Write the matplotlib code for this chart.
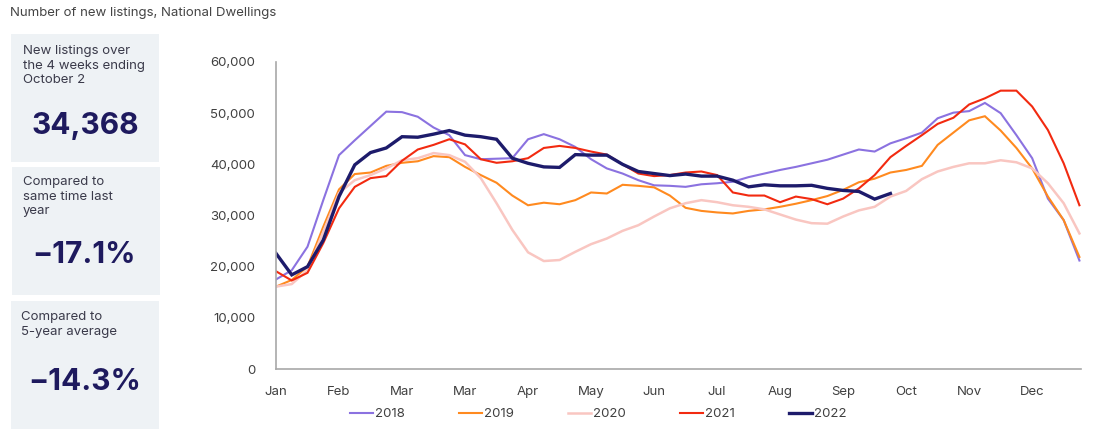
import matplotlib
matplotlib.use("Agg")
import matplotlib.pyplot as plt
from matplotlib.patches import Rectangle

plt.rcParams['font.family'] = ['Inter', 'DejaVu Sans']

# ---- data (weekly, 52 weeks) ----
tick_labels = ["Jan", "Feb", "Mar", "Mar", "Apr", "May", "Jun", "Jul", "Aug",
               "Sep", "Oct", "Nov", "Dec"]
tick_every = 4

s2018 = [17.5, 19.3, 23.9, 33.0, 41.8, 44.7, 47.5, 50.3, 50.2, 49.3, 47.2, 45.7,
         41.8, 41.0, 41.1, 41.2, 44.9, 45.9, 44.9, 43.4, 41.0, 39.2, 38.2, 36.9,
         35.9, 35.8, 35.6, 36.1, 36.3, 36.6, 37.5, 38.2, 38.9, 39.5, 40.2, 40.9,
         41.9, 42.9, 42.5, 44.1, 45.1, 46.2, 49.0, 50.1, 50.4, 52.0, 50.0, 45.7,
         41.2, 33.3, 29.1, 21.2]
s2019 = [16.1, 17.4, 20.0, 27.8, 35.1, 38.1, 38.4, 39.7, 40.3, 40.6, 41.6, 41.4,
         39.5, 37.9, 36.4, 33.9, 32.0, 32.5, 32.2, 33.0, 34.5, 34.3, 36.0, 35.8,
         35.5, 33.9, 31.5, 30.9, 30.6, 30.4, 30.9, 31.2, 31.7, 32.3, 33.0, 33.8,
         35.0, 36.5, 37.2, 38.4, 38.9, 39.7, 43.8, 46.2, 48.6, 49.4, 46.6, 43.2,
         39.2, 33.7, 29.1, 21.9]
s2020 = [16.1, 16.6, 19.3, 26.8, 34.4, 36.9, 37.9, 39.2, 40.8, 41.2, 42.2, 41.8,
         40.5, 37.3, 32.4, 27.2, 22.8, 21.1, 21.3, 22.9, 24.4, 25.5, 27.0, 28.1,
         29.8, 31.4, 32.4, 33.0, 32.6, 32.0, 31.7, 31.2, 30.2, 29.2, 28.5, 28.4,
         29.8, 31.0, 31.7, 33.7, 34.8, 37.1, 38.6, 39.5, 40.2, 40.2, 40.8, 40.4,
         39.2, 36.3, 32.4, 26.5]
s2021 = [19.1, 17.3, 18.8, 24.6, 31.4, 35.6, 37.3, 37.7, 40.7, 42.9, 43.8, 44.9,
         43.9, 41.0, 40.3, 40.6, 41.2, 43.2, 43.6, 43.2, 42.5, 41.9, 40.0, 38.2,
         37.7, 37.9, 38.4, 38.6, 37.9, 34.5, 33.9, 33.9, 32.6, 33.7, 33.2, 32.2,
         33.3, 35.3, 37.9, 41.4, 43.6, 45.7, 47.9, 49.1, 51.7, 52.9, 54.4, 54.4,
         51.3, 46.7, 40.2, 32.0]
s2022 = [22.6, 18.4, 20.0, 25.2, 33.7, 39.9, 42.3, 43.2, 45.4, 45.3, 45.9, 46.6,
         45.7, 45.4, 44.9, 41.2, 40.2, 39.5, 39.4, 41.9, 41.8, 41.8, 40.0, 38.6,
         38.2, 37.8, 38.1, 37.7, 37.7, 36.9, 35.6, 36.0, 35.8, 35.8, 35.9, 35.3,
         34.9, 34.7, 33.2, 34.3]

series_names = ["2018", "2019", "2020", "2021", "2022"]
series_vals = [s2018, s2019, s2020, s2021, s2022]
colors = ["#8B72E0", "#FF8A1F", "#F9C6C1", "#F22A10", "#1D1B6B"]
widths = [1.5, 1.5, 1.8, 1.5, 2.4]

title = "Number of new listings, National Dwellings"
box_texts = ["New listings over\nthe 4 weeks ending\nOctober 2",
             "Compared to\nsame time last\nyear",
             "Compared to\n5-year average"]
box_values = ["34,368", "\u221217.1%", "\u221214.3%"]

W, H = 1105, 429
fig = plt.figure(figsize=(W / 100, H / 100), dpi=100)

def fx(px):
    return px / W

def fy(py):
    return 1 - py / H

# title
fig.text(fx(10), fy(13), title, fontsize=9.5, color="#444444", va="center", ha="left")

# left boxes
boxes = [(11, 34, 148, 128), (12, 167, 148, 128), (11, 301, 148, 130)]
text_pos = [(23, 45), (23, 176), (21, 311)]
val_pos = [(85, 126), (84, 255), (85, 382)]
for (bx, by, bw, bh), (tx, ty), (vx, vy), t, v in zip(boxes, text_pos, val_pos, box_texts, box_values):
    fig.patches.append(Rectangle((fx(bx), fy(by + bh)), bw / W, bh / H,
                                 transform=fig.transFigure, facecolor="#EEF2F5",
                                 edgecolor="none", zorder=0))
    fig.text(fx(tx), fy(ty), t, fontsize=9.5, color="#3a3a4a", va="top", ha="left",
             linespacing=1.3)
    fig.text(fx(vx), fy(vy), v, fontsize=21.5, color="#1E1A5E", va="center", ha="center",
             fontweight="bold")

# chart axes
ax = fig.add_axes([fx(276), 1 - 369 / H, (1081 - 276) / W, (369 - 62) / H])
for name, vals, c, lw in zip(series_names, series_vals, colors, widths):
    ax.plot(range(len(vals)), [v * 1000 for v in vals], color=c, lw=lw, label=name,
            solid_joinstyle="miter" if name != "2020" else "round")

ax.set_xlim(0, 51.1)
ax.set_ylim(0, 60000)
ax.set_yticks(range(0, 60001, 10000))
ax.set_yticklabels([f"{v:,}" for v in range(0, 60001, 10000)])
ax.set_xticks(range(0, 52, tick_every))
ax.set_xticklabels(tick_labels)
ax.tick_params(length=0, labelsize=9.5, labelcolor="#404040")
ax.tick_params(axis="y", pad=15)
ax.tick_params(axis="x", pad=12)
for s in ["top", "right"]:
    ax.spines[s].set_visible(False)
for s in ["left", "bottom"]:
    ax.spines[s].set_color("#A8A8A8")
    ax.spines[s].set_linewidth(1.2)

leg = fig.legend(loc="center", bbox_to_anchor=(fx(598), fy(414)), ncol=5, frameon=False,
                 fontsize=9.5, handlelength=1.75, handletextpad=0.15, columnspacing=4.1,
                 labelcolor="#404040")

fig.savefig("out.png", dpi=100)
